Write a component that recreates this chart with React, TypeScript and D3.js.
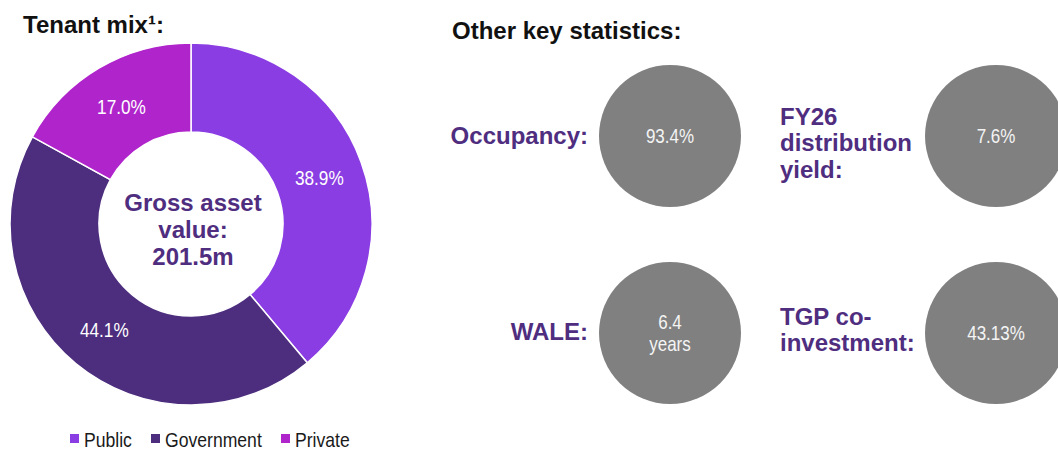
import { useEffect, useRef } from "react";
import * as d3 from "d3";

const categories = ["Public", "Government", "Private"];
const shares = [38.9, 44.1, 17.0];
const colors = ["#8A3DE2", "#4C2D7E", "#B024CC"];

const centerLines = ["Gross asset", "value:", "201.5m"];

const statLabels = [["Occupancy:"], ["FY26", "distribution", "yield:"], ["WALE:"], ["TGP co-", "investment:"]];
const statValues = [["93.4%"], ["7.6%"], ["6.4", "years"], ["43.13%"]];

const W = 1058,
  H = 450;
const PURPLE = "#4F2D7F";
const SANS = "'Liberation Sans', Arial, sans-serif";
const SQUEEZE = 0.84; // reference uses a narrow face

// vertical nudge for each stat label block
const labelShift = [8, 15, 7, 5];

const App = () => {
  const ref = useRef<SVGSVGElement>(null);

  useEffect(() => {
    const svg = d3.select(ref.current);
    svg.selectAll("*").remove();

    const narrowText = (sel: any, x: number, y: number, size: number, sx = SQUEEZE) =>
      sel
        .append("text")
        .attr("transform", `translate(${x},${y}) scale(${sx},1)`)
        .style("font", `${size}px ${SANS}`);

    // titles
    svg
      .append("text")
      .attr("x", 23)
      .attr("y", 33)
      .style("font", `bold 24px ${SANS}`)
      .attr("fill", "#111")
      .text("Tenant mix\u00b9:");

    svg
      .append("text")
      .attr("x", 452)
      .attr("y", 39)
      .style("font", `bold 24px ${SANS}`)
      .attr("fill", "#111")
      .text("Other key statistics:");

    // donut
    const cx = 191,
      cy = 224,
      outer = 181,
      inner = 92;

    const data = categories.map((c, i) => ({ name: c, value: shares[i], color: colors[i] }));
    const pie = d3
      .pie<any>()
      .sort(null)
      .value((d) => d.value);
    const arc = d3.arc<any>().innerRadius(inner).outerRadius(outer);
    const labelArc = d3
      .arc<any>()
      .innerRadius((inner + outer) / 2)
      .outerRadius((inner + outer) / 2);

    const g = svg.append("g").attr("transform", `translate(${cx},${cy})`);
    const arcs = pie(data);

    g.selectAll("path")
      .data(arcs)
      .enter()
      .append("path")
      .attr("d", arc)
      .attr("fill", (d) => d.data.color)
      .attr("stroke", "#fff")
      .attr("stroke-width", 1.5);

    arcs.forEach((d) => {
      const [lx, ly] = labelArc.centroid(d);
      narrowText(g, lx, ly + 7.5, 21, 0.82)
        .attr("text-anchor", "middle")
        .attr("fill", "#fff")
        .text(d3.format(".1f")(d.data.value) + "%");
    });

    g.selectAll("text.ctr")
      .data(centerLines)
      .enter()
      .append("text")
      .attr("class", "ctr")
      .attr("x", 2)
      .attr("y", (d, i) => -13 + i * 27)
      .attr("text-anchor", "middle")
      .attr("fill", PURPLE)
      .style("font", `bold 24px ${SANS}`)
      .text((d) => d);

    // legend
    const legX = [70, 151, 281];
    data.forEach((d, i) => {
      svg
        .append("rect")
        .attr("x", legX[i])
        .attr("y", 434)
        .attr("width", 9)
        .attr("height", 9)
        .attr("fill", d.color);
      narrowText(svg, legX[i] + 14, 447, 20, 0.88).attr("fill", "#1a1a1a").text(d.name);
    });

    // key stats bubbles
    const col = d3.scaleOrdinal<number, number>().domain([0, 1]).range([670, 996]);
    const row = d3.scaleOrdinal<number, number>().domain([0, 1]).range([136, 333]);
    const labelSide = [
      { x: 588, anchor: "end" },
      { x: 780, anchor: "start" },
    ];

    statValues.forEach((vals, i) => {
      const c = i % 2,
        r = Math.floor(i / 2);
      const bx = col(c),
        by = row(r);
      svg.append("circle").attr("cx", bx).attr("cy", by).attr("r", 71).attr("fill", "#808080");

      vals.forEach((v, j) => {
        narrowText(svg, bx, by + 7 + (j - (vals.length - 1) / 2) * 22, 20, 0.85)
          .attr("text-anchor", "middle")
          .attr("fill", "#f4f4f4")
          .text(v);
      });

      const lines = statLabels[i];
      lines.forEach((t, j) => {
        svg
          .append("text")
          .attr("x", labelSide[c].x)
          .attr("y", by + labelShift[i] + (j - (lines.length - 1) / 2) * 26.5)
          .attr("text-anchor", labelSide[c].anchor)
          .attr("fill", PURPLE)
          .style("font", `bold 24px ${SANS}`)
          .text(t);
      });
    });
  }, []);

  return (
    <svg
      ref={ref}
      width={W}
      height={H}
      style={{ position: "absolute", left: 0, top: 0, background: "#fff" }}
    />
  );
};

export default App;
